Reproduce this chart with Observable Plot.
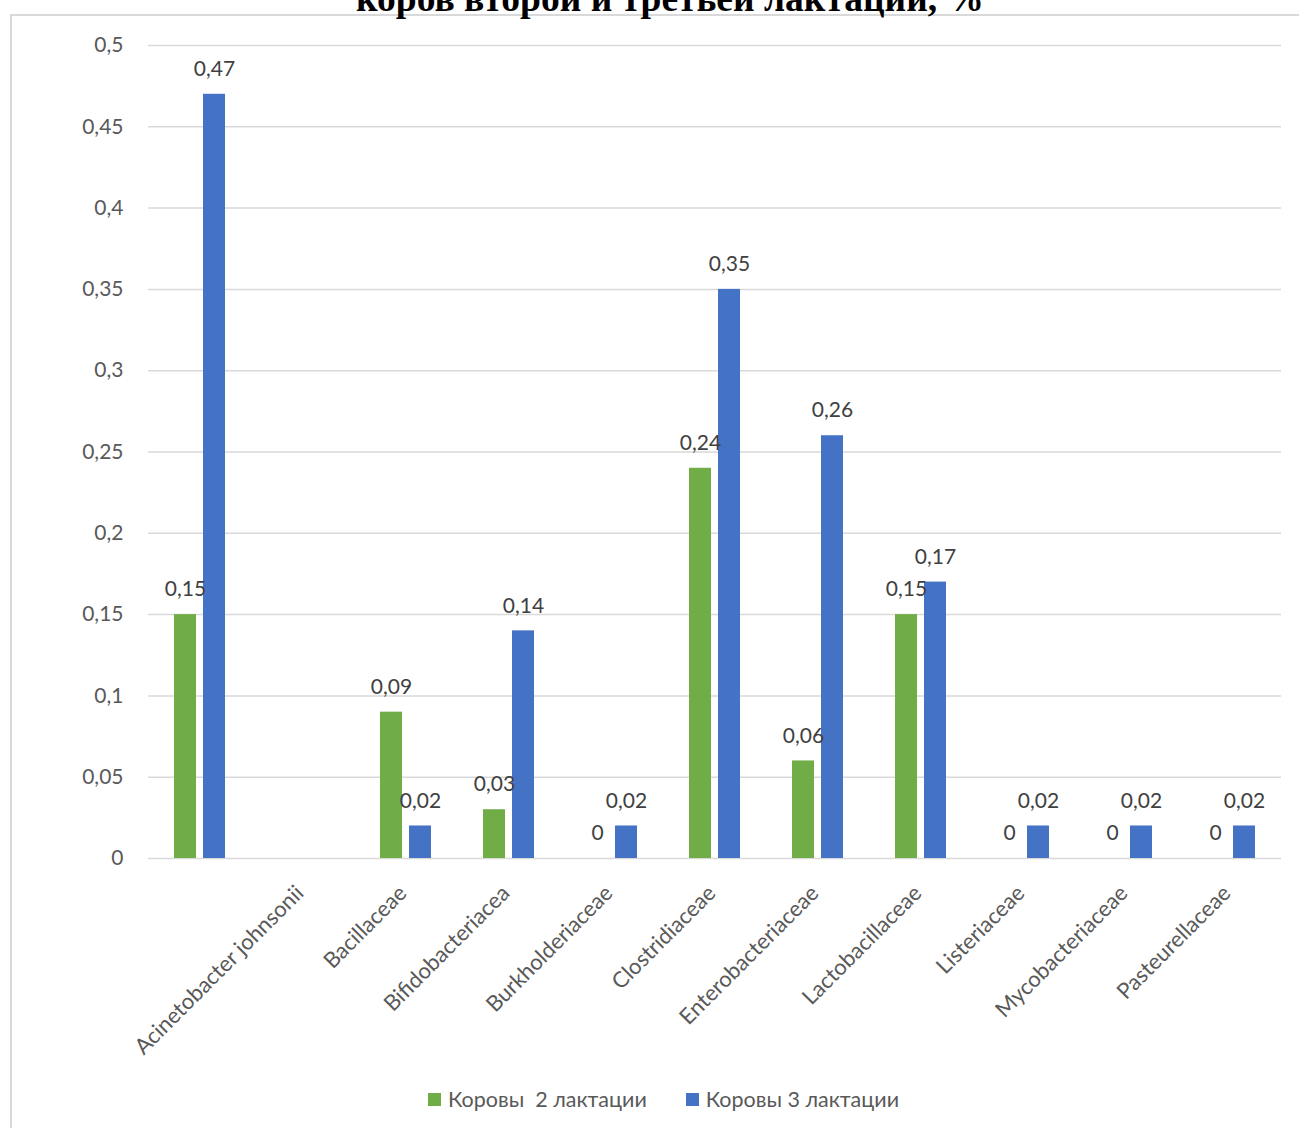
<!DOCTYPE html>
<html><head><meta charset="utf-8">
<script src="https://cdn.jsdelivr.net/npm/d3@7"></script>
<script src="https://cdn.jsdelivr.net/npm/@observablehq/plot@0.6"></script>
<style>
body{margin:0;background:#fff;width:1299px;height:1128px;overflow:hidden;position:relative;font-family:Lato,"Open Sans",sans-serif;}
#frame{position:absolute;left:10px;top:14px;width:1400px;height:1200px;border-left:2px solid #d9d9d9;border-top:2px solid #d9d9d9;}
#title{position:absolute;left:0;width:1340px;text-align:center;top:-20px;font:bold 37.5px "Liberation Serif","Times New Roman",serif;line-height:1;white-space:nowrap;color:#000;}
#chart{position:absolute;left:0;top:0;}
#legend{position:absolute;left:428px;top:1086px;display:flex;align-items:center;font-size:21.5px;color:#595959;white-space:pre;}
.sw{width:13px;height:13px;display:inline-block;margin-right:7px}
.item{display:flex;align-items:center}
</style></head><body>
<div id="frame"></div>
<div id="title">коров второй и третьей лактации, %</div>
<div id="chart"></div>
<div id="legend"></div>
<script>
const categories = ["", "Acinetobacter johnsonii", "Bacillaceae", "Bifidobacteriacea", "Burkholderiaceae", "Clostridiaceae", "Enterobacteriaceae", "Lactobacillaceae", "Listeriaceae", "Mycobacteriaceae", "Pasteurellaceae"];
const series = ["Коровы  2 лактации", "Коровы 3 лактации"];
const values2 = [0.15, null, 0.09, 0.03, 0, 0.24, 0.06, 0.15, 0, 0, 0];
const values3 = [0.47, null, 0.02, 0.14, 0.02, 0.35, 0.26, 0.17, 0.02, 0.02, 0.02];
const yTicks = [0, 0.05, 0.1, 0.15, 0.2, 0.25, 0.3, 0.35, 0.4, 0.45, 0.5];
const colors = ["#70AD47", "#4472C4"];

const data = categories.flatMap((c, i) => [
  {cat: c, s: series[0], v: values2[i]},
  {cat: c, s: series[1], v: values3[i]}
]);
const fmt = d => String(d).replace(".", ",");

const chart = Plot.plot({
  width: 1299, height: 1060,
  marginLeft: 146, marginRight: 17, marginTop: 45, marginBottom: 202,
  style: {fontFamily: 'Lato, "Open Sans", sans-serif', fontSize: "21px", color: "#595959", background: "transparent"},
  fx: {domain: categories, padding: 0, label: null},
  x: {domain: series, paddingInner: 0.233, paddingOuter: 0.838, axis: null},
  y: {domain: [0, 0.5], label: null},
  color: {domain: series, range: colors},
  marks: [
    Plot.gridY(yTicks, {stroke: "#d9d9d9", strokeOpacity: 1, strokeWidth: 1.5}),
    Plot.axisY({ticks: yTicks, tickFormat: fmt, tickSize: 0, tickPadding: 25, label: null, fill: "#595959", fontSize: 21, facetAnchor: "left"}),
    Plot.axisFx({anchor: "bottom", tickRotate: -45, tickSize: 0, tickPadding: 31, dx: -3, label: null, fill: "#595959", fontSize: 22}),
    Plot.barY(data, {fx: "cat", x: "s", y: "v", fill: "s"}),
    Plot.text(data, {fx: "cat", x: "s", y: "v", text: d => d.v == null ? null : fmt(d.v), dy: -25, fill: "#404040", fontSize: 21})
  ]
});
document.getElementById("chart").append(chart);

const leg = document.getElementById("legend");
series.forEach((s, i) => {
  const it = document.createElement("div");
  it.className = "item";
  if (i > 0) it.style.marginLeft = "39px";
  const sw = document.createElement("span");
  sw.className = "sw"; sw.style.background = colors[i];
  const t = document.createElement("span");
  t.textContent = s;
  it.append(sw, t);
  leg.append(it);
});
</script>
</body></html>
